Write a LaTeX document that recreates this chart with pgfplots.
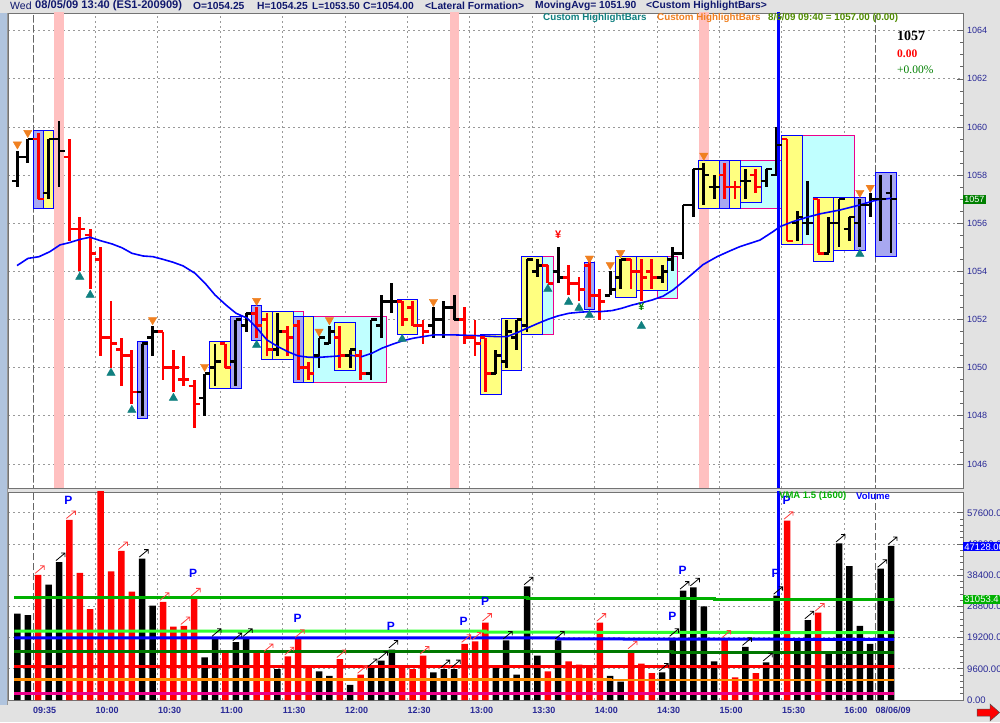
\documentclass[border=0pt]{standalone}
\usepackage{fontspec}
\setmainfont{Liberation Sans}
\newfontfamily\seriffont{Liberation Serif}
\usepackage{pgfplots}
\pgfplotsset{compat=1.18}
\usepackage{pgfplotstable}

\definecolor{bgray}{RGB}{226,226,226}
\definecolor{hlyellow}{RGB}{255,255,128}
\definecolor{hllav}{RGB}{168,168,240}
\definecolor{hlcyan}{RGB}{192,255,255}
\definecolor{pinkband}{RGB}{255,192,192}
\definecolor{trorange}{RGB}{240,128,32}
\definecolor{trteal}{RGB}{16,128,128}
\definecolor{tlnavy}{RGB}{40,40,150}
\definecolor{hdnavy}{RGB}{16,24,110}
\definecolor{vgreen}{RGB}{0,176,0}
\definecolor{vlime}{RGB}{48,255,48}
\definecolor{vdgreen}{RGB}{0,120,0}
\definecolor{vorange}{RGB}{255,140,0}
\definecolor{olivegreen}{RGB}{80,140,0}
\definecolor{boxgreen}{RGB}{0,128,0}
\definecolor{leftstrip}{RGB}{176,196,222}

\pgfdeclareplotmark{otick}{\pgfsetlinewidth{2.4pt}\pgfsetbuttcap
  \pgfpathmoveto{\pgfqpoint{-5.5pt}{0pt}}\pgfpathlineto{\pgfqpoint{0pt}{0pt}}\pgfusepathqstroke}
\pgfdeclareplotmark{ctick}{\pgfsetlinewidth{2.4pt}\pgfsetbuttcap
  \pgfpathmoveto{\pgfqpoint{0pt}{0pt}}\pgfpathlineto{\pgfqpoint{5.5pt}{0pt}}\pgfusepathqstroke}
\pgfdeclareplotmark{varrow}{\pgfsetlinewidth{0.8pt}
  \pgfpathmoveto{\pgfqpoint{-3pt}{1.5pt}}\pgfpathlineto{\pgfqpoint{6pt}{9pt}}
  \pgfpathmoveto{\pgfqpoint{2pt}{9pt}}\pgfpathlineto{\pgfqpoint{6pt}{9pt}}\pgfpathlineto{\pgfqpoint{6pt}{5pt}}
  \pgfusepathqstroke}

\tikzset{
  ybx/.style={fill=hlyellow, draw=blue, line width=0.9pt},
  bbx/.style={fill=hllav, draw=blue, line width=0.9pt},
  cbx/.style={fill=hlcyan, draw=magenta, line width=0.9pt},
  pmark/.style={text=blue, font=\bfseries\fontsize{12}{13}\selectfont},
}
\newcommand{\hbx}[5]{\addplot[#5] coordinates {(#1,#2) (#3,#2) (#3,#4) (#1,#4)} -- cycle;}

\pgfplotstableread{
k o h l c v a
-2 1057.75 1059.0 1057.5 1058.75 26600 0
-1 1058.75 1059.5 1058.5 1059.5 26100 0
1 1057.25 1059.5 1057.0 1059.5 35500 0
2 1059.5 1060.25 1057.5 1059.0 42440 1
10 1049.0 1051.0 1048.0 1051.0 43500 1
11 1051.25 1051.75 1050.5 1051.5 29000 0
16 1048.75 1049.75 1048.0 1049.75 13140 0
17 1050.0 1051.0 1049.25 1050.25 19140 1
19 1050.25 1052.0 1049.25 1052.0 17800 1
20 1051.75 1052.25 1051.5 1052.25 19140 1
23 1050.75 1052.25 1050.5 1051.5 9500 0
27 1050.5 1051.25 1050.0 1051.25 8800 0
28 1051.0 1051.75 1051.0 1051.5 7460 0
30 1050.5 1050.75 1050.0 1050.75 4660 0
32 1049.75 1052.0 1049.5 1052.0 9820 1
33 1051.75 1053.0 1051.25 1052.75 12100 1
34 1052.75 1053.5 1052.25 1052.75 15530 1
38 1051.75 1052.5 1051.25 1052.0 8480 0
39 1052.0 1052.75 1051.25 1052.5 9500 1
40 1052.5 1053.0 1052.0 1052.0 9500 1
44 1049.75 1050.75 1049.75 1050.5 9820 0
45 1050.25 1052.0 1050.0 1051.5 18330 1
46 1051.25 1052.0 1050.75 1052.0 7770 0
47 1051.75 1054.5 1051.5 1054.5 34990 1
48 1054.0 1054.5 1053.75 1054.25 13670 0
50 1054.0 1055.0 1053.5 1053.75 18330 1
55 1053.0 1054.0 1053.0 1053.25 7460 0
56 1053.75 1054.5 1053.25 1054.5 5690 0
60 1053.75 1054.25 1053.5 1054.0 8480 1
61 1054.5 1055.0 1054.0 1054.75 19140 1
62 1054.75 1056.75 1054.5 1056.75 33650 1
63 1056.75 1058.25 1056.25 1058.25 34680 1
64 1058.25 1058.5 1056.75 1058.0 28770 0
65 1057.5 1058.0 1057.0 1057.5 11900 0
68 1057.75 1058.25 1057.0 1057.75 16340 1
70 1057.75 1058.25 1057.5 1058.25 11590 1
71 1058.0 1060.0 1058.0 1059.25 32100 1
73 1056.0 1056.5 1055.25 1056.25 18420 0
74 1056.0 1057.75 1055.5 1056.0 24540 1
76 1054.75 1056.25 1054.75 1056.0 15010 0
77 1056.0 1057.0 1055.0 1057.0 48160 1
78 1055.75 1056.25 1055.25 1056.25 41200 0
79 1056.0 1057.0 1055.0 1056.75 22770 0
80 1056.75 1057.25 1056.25 1057.0 17280 0
81 1057.0 1058.0 1055.25 1057.0 40390 1
82 1057.25 1058.0 1054.75 1057.0 47410 1
}\blk

\pgfplotstableread{
k o h l c v a
0 1059.5 1059.75 1057.0 1057.0 38530 1
3 1058.75 1059.5 1055.25 1055.75 55400 1
4 1055.75 1056.25 1054.0 1055.75 39150 0
5 1055.5 1055.75 1053.25 1054.75 27960 0
6 1054.5 1055.0 1050.5 1051.25 66000 0
7 1051.25 1052.75 1050.0 1051.0 39550 0
8 1050.75 1051.25 1049.25 1050.5 45860 1
9 1050.5 1050.75 1048.5 1049.0 33340 0
12 1051.5 1051.5 1049.5 1050.0 30230 1
13 1050.0 1050.75 1049.0 1050.0 22560 0
14 1049.5 1050.5 1049.25 1049.5 22770 1
15 1049.25 1049.5 1047.5 1048.5 31570 1
18 1051.0 1051.0 1050.0 1050.0 14480 0
21 1052.25 1052.5 1051.25 1051.75 14480 0
22 1052.0 1052.25 1050.5 1050.75 14480 1
24 1051.5 1051.75 1050.5 1051.25 13450 1
25 1051.75 1052.0 1049.5 1050.0 18830 1
26 1050.0 1050.25 1049.5 1049.75 9820 0
29 1051.25 1051.75 1050.0 1050.5 12610 1
31 1050.5 1050.75 1049.5 1049.75 7770 1
35 1052.75 1052.75 1051.75 1052.0 9820 0
36 1052.5 1052.75 1051.75 1051.75 9500 0
37 1051.75 1052.0 1051.0 1051.5 13670 1
41 1052.0 1052.5 1051.0 1051.25 17280 1
42 1051.25 1052.0 1050.5 1051.0 18020 1
43 1051.25 1051.25 1049.0 1049.75 23800 1
49 1054.25 1054.25 1053.5 1053.5 8800 0
51 1053.75 1054.25 1053.0 1053.5 11900 0
52 1053.5 1053.75 1052.75 1053.25 10870 0
53 1054.25 1054.5 1052.5 1053.0 10350 0
54 1053.0 1053.25 1052.0 1052.75 23800 1
57 1054.5 1054.5 1053.25 1054.0 15320 1
58 1054.0 1054.5 1052.75 1053.75 11190 0
59 1054.0 1054.5 1053.25 1053.75 8270 0
66 1058.0 1058.5 1057.0 1057.5 18640 1
67 1057.5 1057.75 1057.0 1057.5 6930 0
69 1058.0 1058.25 1057.25 1057.5 8270 0
72 1059.5 1059.5 1055.25 1055.25 55180 1
75 1057.0 1057.0 1054.75 1054.75 26910 1
}\red

\begin{document}
\begin{tikzpicture}[x=1pt,y=1pt]
\fill[bgray] (0,0) rectangle (1000,722);
\fill[leftstrip] (0,17) rectangle (7,709);
\draw[black!40] (7,17) -- (7,709);

%================ PRICE PANEL =================
\begin{axis}[
  name=price, at={(8pt,234pt)}, anchor=south west,
  scale only axis, width=955pt, height=475pt,
  xmin=-2.904, xmax=88.92, ymin=1045.0, ymax=1064.735,
  axis background/.style={fill=white},
  axis line style={black!55, line width=0.6pt},
  xtick={-0.5,5.5,11.5,17.5,23.5,29.5,35.5,41.5,47.5,53.5,59.5,65.5,71.5,77.5,80.5},
  xticklabels={}, xtick style={draw=none},
  ytick={1046,1048,1050,1052,1054,1056,1058,1060,1062,1064},
  yticklabels={1046,1048,1050,1052,1054,1056,1058,1060,1062,1064},
  minor y tick num=3,
  ytick pos=right, yticklabel pos=right, tick align=inside,
  major tick length=6pt, minor tick length=3.5pt,
  ytick style={black!60, line width=0.6pt},
  yticklabel style={font=\fontsize{9}{10}\selectfont, text=tlnavy, anchor=west, inner sep=0pt, xshift=4pt},
  grid=major, grid style={black!40, dash pattern=on 2pt off 3pt, line width=0.7pt},
  clip=true,
]
% day breaks
\addplot[black!60, line width=0.8pt, dash pattern=on 7pt off 3pt] coordinates {(-0.5,1044)(-0.5,1066)};
\addplot[black!60, line width=0.8pt, dash pattern=on 7pt off 3pt] coordinates {(80.5,1044)(80.5,1066)};
% pink bands
\hbx{1.55}{1044}{2.45}{1066}{fill=pinkband, draw=none}
\hbx{39.55}{1044}{40.45}{1066}{fill=pinkband, draw=none}
\hbx{63.55}{1044}{64.45}{1066}{fill=pinkband, draw=none}
% cyan boxes
\hbx{21.5}{1050.36}{25.5}{1052.35}{cbx}
\hbx{26.5}{1049.38}{33.5}{1052.12}{cbx}
\hbx{48.5}{1051.36}{49.5}{1054.61}{cbx}
\hbx{59.5}{1052.89}{61.5}{1054.61}{cbx}
\hbx{67.5}{1056.62}{71.5}{1058.60}{cbx}
\hbx{71.5}{1055.13}{78.5}{1059.63}{cbx}
% yellow / blue boxes
\hbx{-0.5}{1056.62}{0.5}{1059.85}{bbx}
\hbx{0.5}{1056.62}{1.5}{1059.85}{ybx}
\hbx{9.5}{1047.87}{10.5}{1051.08}{bbx}
\hbx{16.5}{1049.14}{18.5}{1051.08}{ybx}
\hbx{18.5}{1049.14}{19.5}{1052.11}{bbx}
\hbx{20.5}{1051.11}{21.5}{1052.60}{bbx}
\hbx{21.5}{1050.36}{22.5}{1052.35}{ybx}
\hbx{22.5}{1050.36}{24.5}{1052.35}{ybx}
\hbx{24.5}{1049.38}{25.5}{1052.12}{bbx}
\hbx{25.5}{1049.38}{26.5}{1052.12}{ybx}
\hbx{28.5}{1049.90}{30.5}{1051.86}{ybx}
\hbx{34.5}{1051.36}{36.5}{1052.85}{ybx}
\hbx{42.5}{1048.87}{44.5}{1051.36}{ybx}
\hbx{44.5}{1049.90}{46.5}{1052.06}{ybx}
\hbx{46.5}{1051.36}{48.5}{1054.61}{ybx}
\hbx{52.5}{1052.43}{53.5}{1054.36}{bbx}
\hbx{55.5}{1052.90}{57.5}{1054.61}{ybx}
\hbx{57.5}{1053.20}{60.5}{1054.61}{ybx}
\hbx{63.5}{1056.62}{65.5}{1058.60}{ybx}
\hbx{65.5}{1056.62}{66.5}{1058.60}{bbx}
\hbx{66.5}{1056.62}{67.5}{1058.60}{ybx}
\hbx{67.5}{1056.87}{69.5}{1058.35}{ybx}
\hbx{71.5}{1055.13}{73.5}{1059.63}{ybx}
\hbx{74.5}{1054.40}{76.5}{1057.08}{ybx}
\hbx{76.5}{1054.89}{78.5}{1057.08}{ybx}
\hbx{78.5}{1054.89}{79.5}{1057.08}{bbx}
\hbx{80.5}{1054.64}{82.5}{1058.10}{bbx}
% OHLC bars
\addplot[black, only marks, mark=otick, error bars/.cd, y dir=both, y explicit, error mark=none, error bar style={line width=2.7pt}]
  table[x=k, y=o, y error plus expr={\thisrow{h}-\thisrow{o}}, y error minus expr={\thisrow{o}-\thisrow{l}}] {\blk};
\addplot[black, only marks, mark=ctick] table[x=k, y=c] {\blk};
\addplot[red, only marks, mark=otick, error bars/.cd, y dir=both, y explicit, error mark=none, error bar style={line width=2.7pt}]
  table[x=k, y=o, y error plus expr={\thisrow{h}-\thisrow{o}}, y error minus expr={\thisrow{o}-\thisrow{l}}] {\red};
\addplot[red, only marks, mark=ctick] table[x=k, y=c] {\red};
% moving average
\addplot[blue, line width=1.6pt] coordinates {
(-2.04,1054.24) (-0.98,1054.54) (0.08,1054.61) (1.13,1054.82) (2.10,1055.10) (2.96,1055.19) (4.02,1055.33) (4.98,1055.42) (5.94,1055.28) (7.10,1055.14) (8.06,1054.98) (9.02,1054.75) (10.08,1054.64) (11.04,1054.61) (12.0,1054.50) (12.96,1054.38) (13.92,1054.23) (15.08,1053.92) (16.04,1053.51) (17.0,1053.02) (18.06,1052.60) (19.02,1052.26) (20.08,1052.06) (21.04,1051.64) (22.0,1051.15) (23.06,1050.87) (24.02,1050.66) (24.98,1050.49) (26.04,1050.43) (27.09,1050.43) (28.06,1050.46) (29.02,1050.49) (30.08,1050.51) (31.13,1050.46) (32.09,1050.60) (33.06,1050.81) (34.11,1050.98) (35.07,1051.12) (36.04,1051.22) (37.0,1051.29) (38.06,1051.36) (40.08,1051.36) (42.1,1051.33) (44.11,1051.29) (45.08,1051.29) (46.04,1051.45) (47.0,1051.64) (48.06,1051.84) (49.02,1052.01) (49.98,1052.15) (51.04,1052.26) (52.0,1052.30) (53.06,1052.33) (54.11,1052.33) (55.17,1052.37) (56.13,1052.47) (57.1,1052.60) (58.06,1052.70) (59.02,1052.81) (60.08,1052.97) (61.04,1053.23) (62.0,1053.57) (62.96,1053.92) (63.92,1054.28) (65.27,1054.61) (66.5,1054.85) (67.48,1055.03) (69.4,1055.30) (70.65,1055.65) (71.33,1055.86) (72.58,1056.07) (73.92,1056.25) (75.17,1056.39) (77.09,1056.55) (79.0,1056.76) (80.64,1056.97) (82.08,1057.04)};
% triangles
\addplot[only marks, mark=triangle*, mark size=4.8pt, mark options={rotate=180, fill=trorange, draw=trorange}] coordinates {
(-2,1059.28) (-1,1059.76) (11,1051.98) (16,1050.04) (21,1052.78) (27,1051.50) (28,1051.98) (38,1052.74) (53,1054.54) (55,1054.27) (56,1054.77) (64,1058.81) (79,1057.27) (80,1057.48)};
\addplot[only marks, mark=triangle*, mark size=4.8pt, mark options={fill=trteal, draw=trteal}] coordinates {
(4,1053.77) (5,1053.02) (7,1049.78) (9,1048.24) (13,1048.74) (21,1050.94) (35,1051.19) (49,1053.27) (51,1052.73) (52,1052.48) (53,1052.19) (58,1051.73) (79,1054.72)};
% vertical blue line
\addplot[blue, line width=2.6pt] coordinates {(71.15,1044)(71.15,1066)};
\node[text=red, font=\bfseries\fontsize{11}{12}\selectfont] at (axis cs:50,1055.51) {¥};
\node[text=boxgreen, font=\bfseries\fontsize{11}{12}\selectfont] at (axis cs:58,1052.52) {¥};
\end{axis}

%================ VOLUME PANEL =================
\begin{axis}[
  name=vol, at={(8pt,22pt)}, anchor=south west,
  scale only axis, width=955pt, height=208pt,
  xmin=-2.904, xmax=88.92, ymin=0, ymax=64000,
  axis background/.style={fill=white},
  axis line style={black!55, line width=0.6pt},
  xtick={-0.5,5.5,11.5,17.5,23.5,29.5,35.5,41.5,47.5,53.5,59.5,65.5,71.5,77.5,80.5},
  xticklabels={09:35,10:00,10:30,11:00,11:30,12:00,12:30,13:00,13:30,14:00,14:30,15:00,15:30,16:00,08/06/09},
  xtick style={draw=none},
  xticklabel style={font=\bfseries\fontsize{9}{10}\selectfont, text=tlnavy, anchor=north west, inner sep=0pt, yshift=-7pt},
  ytick={0,9600,19200,28800,38400,48000,57600},
  yticklabels={0.00,9600.00,19200.00,28800.00,38400.00,48000.00,57600.00},
  scaled y ticks=false,
  minor y tick num=4,
  ytick pos=right, yticklabel pos=right, tick align=inside,
  major tick length=6pt, minor tick length=3.5pt,
  ytick style={black!60, line width=0.6pt},
  yticklabel style={font=\fontsize{9.5}{10}\selectfont, text=tlnavy, anchor=west, inner sep=0pt, xshift=4pt},
  grid=major, grid style={black!40, dash pattern=on 2pt off 3pt, line width=0.7pt},
  clip=true,
]
\addplot[black!60, line width=0.8pt, dash pattern=on 7pt off 3pt] coordinates {(-0.5,-100)(-0.5,70000)};
\addplot[black!60, line width=0.8pt, dash pattern=on 7pt off 3pt] coordinates {(80.5,-100)(80.5,70000)};
\addplot[ybar, bar width=6.5pt, bar shift=0pt, fill=black, draw=none] table[x=k, y=v] {\blk};
\addplot[ybar, bar width=6.5pt, bar shift=0pt, fill=red, draw=none] table[x=k, y=v] {\red};
% volume average lines
\addplot[vgreen, line width=3pt] coordinates {(-2.3,31600)(47,31600)(47,31300)(65,31300)(65,31053)(82.3,31053)};
\addplot[vlime, line width=3pt] coordinates {(-2.3,21220)(43,21220)(43,20900)(82.3,20700)};
\addplot[blue, line width=3pt] coordinates {(-2.3,19140)(50,19140)(50,18800)(82.3,18640)};
\addplot[vdgreen, line width=3pt] coordinates {(-2.3,14790)(61,14790)(61,14480)(82.3,14480)};
\addplot[red, line width=3pt] coordinates {(-2.3,10350)(82.3,10350)};
\addplot[vorange, line width=2.6pt] coordinates {(-2.3,6400)(55,6400)(55,6210)(82.3,6210)};
\addplot[magenta, line width=2.6pt] coordinates {(-2.3,2050)(82.3,2050)};
% arrows
\addplot[black, only marks, mark=varrow, restrict expr to domain={\thisrow{a}}{0.5:1.5}] table[x=k, y=v] {\blk};
\addplot[red!75, only marks, mark=varrow, restrict expr to domain={\thisrow{a}}{0.5:1.5}] table[x=k, y=v] {\red};
% blue vertical line
\addplot[blue, line width=2.6pt] coordinates {(71.15,32100)(71.15,70000)};
% P markers
\node[pmark] at (axis cs:2.9,61540) {P};
\node[pmark] at (axis cs:14.9,38990) {P};
\node[pmark] at (axis cs:24.95,25140) {P};
\node[pmark] at (axis cs:33.9,22560) {P};
\node[pmark] at (axis cs:40.9,24090) {P};
\node[pmark] at (axis cs:42.96,30250) {P};
\node[pmark] at (axis cs:60.97,25660) {P};
\node[pmark] at (axis cs:61.97,40000) {P};
\node[pmark] at (axis cs:70.9,38990) {P};
\node[pmark] at (axis cs:71.97,61540) {P};
\end{axis}

%================ TEXTS =================
\begin{scope}[every node/.style={anchor=west, inner sep=0pt, text=hdnavy, font=\bfseries\fontsize{10.3}{12}\selectfont}]
\node[font=\fontsize{10.5}{12}\selectfont] at (10,716) {Wed};
\node[font=\bfseries\fontsize{11.1}{12}\selectfont] at (35,716) {08/05/09 13:40 (ES1-200909)};
\node at (193,716) {O=1054.25};
\node at (257,716) {H=1054.25};
\node[font=\bfseries\fontsize{9.9}{12}\selectfont] at (312,716) {L=1053.50};
\node at (363,716) {C=1054.00};
\node at (425,716) {<Lateral Formation>};
\node at (535,716) {MovingAvg= 1051.90};
\node at (646,716) {<Custom HighlightBars>};
\end{scope}
\begin{scope}[every node/.style={anchor=west, inner sep=0pt, font=\bfseries\fontsize{9.8}{12}\selectfont}]
\node[text=trteal] at (543,704.5) {Custom HighlightBars};
\node[text=trorange] at (657,704.5) {Custom HighlightBars};
\node[text=olivegreen] at (768,704.5) {8/6/09 09:40 = 1057.00 (0.00)};
\end{scope}
\node[anchor=west, inner sep=0pt, text=black, font=\seriffont\bfseries\fontsize{14}{15}\selectfont] at (897,686) {1057};
\node[anchor=west, inner sep=0pt, text=red, font=\seriffont\bfseries\fontsize{11.5}{13}\selectfont] at (897,668) {0.00};
\node[anchor=west, inner sep=0pt, text=boxgreen, font=\seriffont\fontsize{11.5}{13}\selectfont] at (897,652) {+0.00\%};
% right labels
\node[anchor=west, fill=boxgreen, text=white, font=\fontsize{9}{10}\selectfont, inner sep=1.2pt] at (963,522.8) {1057};
\node[anchor=west, fill=blue, text=white, font=\fontsize{9.5}{10}\selectfont, inner sep=1.2pt] at (963,175.2) {47128.00};
\node[anchor=west, fill=vgreen, text=white, font=\fontsize{9.5}{10}\selectfont, inner sep=1.2pt] at (963,122.9) {31053.47};
% volume header
\node[anchor=west, inner sep=0pt, text=vgreen, font=\bfseries\fontsize{9.5}{11}\selectfont] at (779,226) {VMA 1.5 (1600)};
\node[anchor=west, inner sep=0pt, text=blue, font=\bfseries\fontsize{9.5}{11}\selectfont] at (856,226) {Volume};
% red arrow bottom right
\filldraw[fill=red, draw=black!70, line width=0.5pt] (977,13) -- (990,13) -- (990,18) -- (999.5,9.5) -- (990,1) -- (990,6) -- (977,6) -- cycle;
\pgfresetboundingbox
\useasboundingbox (0,0) rectangle (1000,722);
\end{tikzpicture}
\end{document}
